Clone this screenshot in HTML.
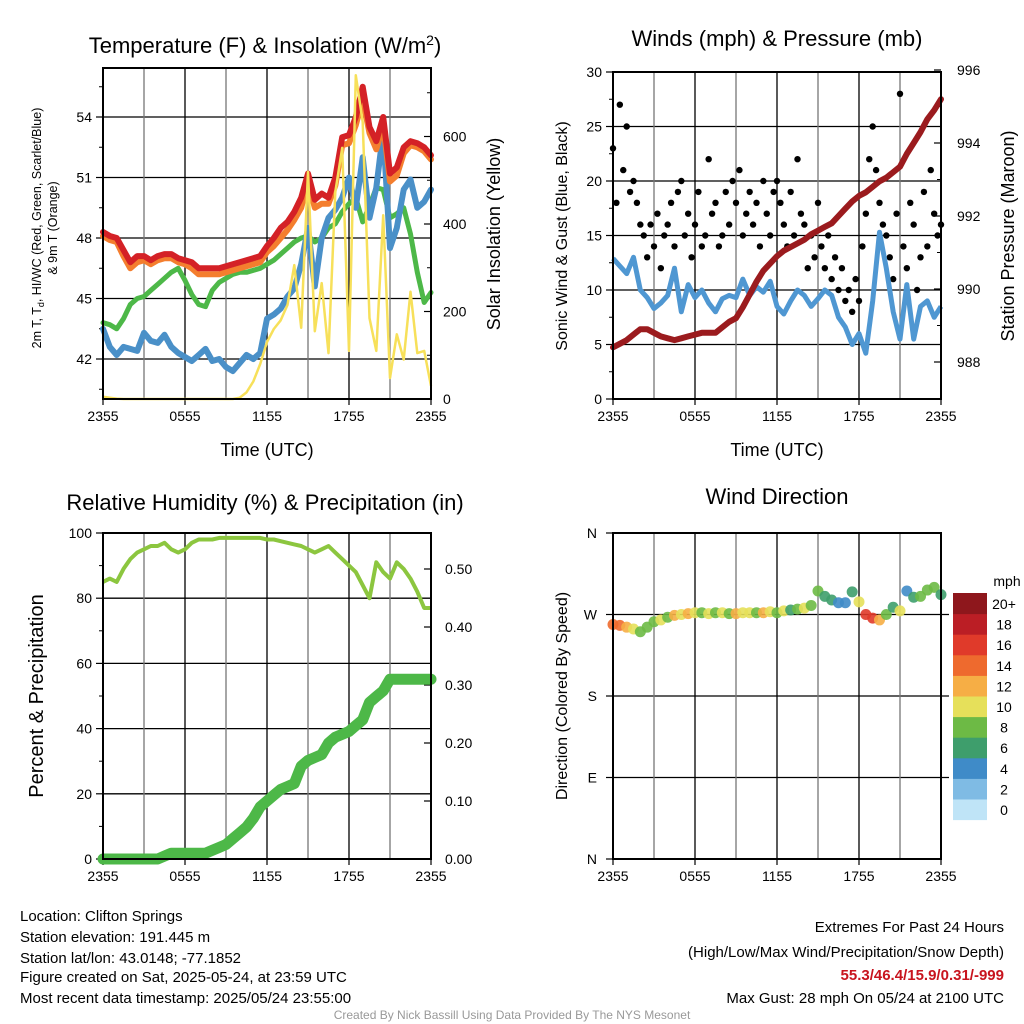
<!DOCTYPE html>
<html><head><meta charset="utf-8"><style>
body{margin:0;background:#fff;}
svg{display:block;font-family:"Liberation Sans",Arial,sans-serif;}
</style></head><body>
<svg id="chart" width="1024" height="1024" viewBox="0 0 1024 1024" xmlns="http://www.w3.org/2000/svg">
<rect width="1024" height="1024" fill="#fff"/>
<g id="p1"></g>
<g id="p2"></g>
<g id="p3"></g>
<g id="p4"></g>
<g font-size="15" fill="#000">
<text x="20" y="921">Location: Clifton Springs</text>
<text x="20" y="942">Station elevation: 191.445 m</text>
<text x="20" y="963">Station lat/lon: 43.0148; -77.1852</text>
<text x="20" y="982">Figure created on Sat, 2025-05-24, at 23:59 UTC</text>
<text x="20" y="1003">Most recent data timestamp: 2025/05/24 23:55:00</text>
</g>
<g font-size="15" text-anchor="end">
<text x="1004" y="932">Extremes For Past 24 Hours</text>
<text x="1004" y="957">(High/Low/Max Wind/Precipitation/Snow Depth)</text>
<text x="1004" y="980" fill="#c8141e" font-weight="bold">55.3/46.4/15.9/0.31/-999</text>
<text x="1004" y="1003">Max Gust: 28 mph On 05/24 at 2100 UTC</text>
</g>
<text x="512" y="1019" font-size="12" fill="#999" text-anchor="middle">Created By Nick Bassill Using Data Provided By The NYS Mesonet</text>
</svg>
<script>
// ---------- data (half-hourly, 2355 -> 2355) ----------
const xTickLabels = ["2355","0555","1155","1755","2355"];
const temp2m = [48.3,48.1,48.0,47.4,46.8,47.1,47.1,46.9,47.1,47.2,47.2,47.0,46.9,46.8,46.5,46.5,46.5,46.5,46.6,46.7,46.8,46.9,47.0,47.1,47.6,48.0,48.5,48.8,49.3,50.0,51.2,49.9,50.2,50.0,51.0,53.0,53.1,54.0,55.5,53.5,52.8,54.0,51.2,51.5,52.5,52.8,52.7,52.5,52.1];
const temp9m = [48.1,47.9,47.8,47.1,46.5,46.8,46.9,46.7,46.9,47.0,47.0,46.8,46.7,46.5,46.2,46.2,46.2,46.2,46.3,46.4,46.5,46.6,46.7,46.8,47.3,47.6,48.0,48.4,48.9,49.5,50.8,49.5,49.7,49.7,50.6,52.6,52.7,53.6,54.9,53.2,52.4,53.6,50.8,51.1,52.2,52.6,52.5,52.3,51.9];
const dewpoint = [43.8,43.7,43.5,44.0,44.7,45.0,45.1,45.4,45.7,46.0,46.3,46.5,45.9,45.2,44.7,44.6,45.4,45.8,46.0,46.2,46.3,46.3,46.4,46.5,46.7,46.9,47.2,47.5,47.8,48.0,48.1,47.8,48.0,48.5,48.7,49.3,49.7,50.0,48.8,49.6,50.5,50.4,49.0,49.2,49.5,48.2,46.3,44.8,45.3];
const hiwc = [43.5,42.6,42.2,42.6,42.5,42.4,43.3,42.9,42.8,43.2,42.6,42.3,42.1,41.9,42.2,42.5,41.9,42.0,41.6,41.4,41.8,42.2,42.0,42.3,44.0,44.2,44.5,45.1,45.5,46.7,48.5,45.6,48.0,49.0,49.4,50.0,51.0,49.5,52.0,49.0,50.5,53.3,47.5,48.5,50.4,50.9,49.5,49.8,50.4];
const solar = [5,3,1,0,0,0,0,0,0,0,0,0,0,0,0,0,0,0,0,0,3,15,40,80,130,160,180,215,306,163,519,155,265,105,473,574,110,740,633,185,110,420,48,148,90,245,105,110,30];
const windSpeed = [12.9,12.2,11.5,13.0,10.0,9.3,8.3,8.8,9.5,12.0,8.0,10.5,9.3,10.0,8.8,8.0,9.2,9.5,9.3,11.0,9.5,10.3,9.8,10.8,8.5,7.8,9.0,10.0,9.5,8.5,9.2,10.0,9.5,7.5,6.6,5.0,6.0,4.2,9.0,15.3,12.0,8.0,5.5,10.5,5.5,8.5,9.0,7.5,8.5];
const pressure = [988.4,988.5,988.6,988.75,988.9,988.9,988.8,988.7,988.65,988.6,988.65,988.7,988.75,988.8,988.8,988.8,988.95,989.1,989.2,989.5,989.85,990.2,990.5,990.7,990.9,991.05,991.15,991.25,991.35,991.5,991.6,991.7,991.8,992.0,992.2,992.4,992.55,992.65,992.8,992.95,993.05,993.2,993.35,993.7,994.0,994.3,994.65,994.9,995.2];
// quarter-hourly gusts
const gusts = [23,18,27,21,25,19,20,18,16,15,13,16,14,17,12,15,16,18,14,19,20,15,17,13,16,19,14,15,22,17,18,14,15,19,16,20,18,21,15,17,19,16,18,14,20,17,15,19,20,18,16,14,19,15,22,17,16,12,15,13,18,14,12,15,11,13,10,12,9,10,8,11,9,14,17,22,25,21,18,16,15,13,11,17,28,14,12,18,16,10,13,19,14,21,17,15,16];
const relHum = [85,86,85,89,92,94,95,96,96,97,95,94,95,97,98,98,98,98.5,98.5,98.5,98.5,98.5,98.5,98.5,98,98,97.5,97,96.5,96,95,94,95,96,94,92,90,88,84,80,91,88,86,91,89,86,82,77,77];
const precip = [0,0,0,0,0,0,0,0,0,0.005,0.01,0.01,0.01,0.01,0.01,0.01,0.015,0.02,0.025,0.035,0.045,0.055,0.07,0.09,0.10,0.11,0.12,0.125,0.13,0.16,0.17,0.175,0.18,0.20,0.21,0.215,0.22,0.23,0.24,0.27,0.28,0.29,0.31,0.31,0.31,0.31,0.31,0.31,0.31];
const windDir = [259,258,256,254,251,256,262,264,267,269,270,271,272,272,271,272,272,271,271,272,272,272,272,273,272,274,275,276,277,280,296,290,286,283,283,295,284,270,266,264,270,278,274,296,289,290,297,300,292];
const dirSpeed = [14,15,13,11,9,8,8,10,8,13,11,12,10,9,10,8,11,9,12,10,11,9,12,10,8,10,7,9,10,8,8,6,6,5,4,6,10,16,17,12,8,7,11,4,6,8,8,9,6];
const colorLevels = ["0","2","4","6","8","10","12","14","16","18","20+"];
const colorFills = ["#bfe4f7","#7fbbe4","#3f8bc8","#3e9e6c","#6dba45","#e6e05a","#f6ae45","#ee6a2e","#e03a2a","#bb1e25","#8e171c"];

const NS="http://www.w3.org/2000/svg";
function mk(parent,tag,attrs,txt){const e=document.createElementNS(NS,tag);for(const k in attrs)e.setAttribute(k,attrs[k]);if(txt!==undefined)e.textContent=txt;parent.appendChild(e);return e;}
function lin(d0,d1,r0,r1){return v=>r0+(v-d0)/(d1-d0)*(r1-r0);}

function frame(g,L,T,R,B,xs,name){
  for(let h=3;h<24;h+=3){const x=xs(h);
    const l=mk(g,'line',{x1:x,y1:T,x2:x,y2:B,stroke:h%6===0?'#000':'#777','stroke-width':1.3});
    
    }
  xTickLabels.forEach((lab,i)=>{const x=xs(i*6);
    mk(g,'line',{x1:x,y1:B,x2:x,y2:B+6,stroke:'#000','stroke-width':1.2});
    const t=mk(g,'text',{x:x,y:B+22,'font-size':14,'text-anchor':'middle'},lab);
    
    });
}
function border(g,L,T,R,B){const r=mk(g,'rect',{x:L,y:T,width:R-L,height:B-T,fill:'none',stroke:'#000','stroke-width':2});
  
  }
function path(g,pts){return 'M'+pts.map(p=>p[0].toFixed(1)+','+p[1].toFixed(1)).join('L');}

// ---------- Panel 1 ----------
(function(){
  const g=document.getElementById('p1');const L=103,R=431,T=68,B=399;
  const xs=lin(0,24,L,R), ys=lin(42,45,359,298.5), ysr=lin(0,600,399,136.5);
  [42,45,48,51,54].forEach(v=>{const y=ys(v);
    const gl=mk(g,'line',{x1:L,y1:y,x2:R,y2:y,stroke:'#000','stroke-width':1.3});
    
    
    mk(g,'line',{x1:L-7,y1:y,x2:L,y2:y,stroke:'#000','stroke-width':1.2});
    const t=mk(g,'text',{x:L-11,y:y+5,'font-size':14,'text-anchor':'end'},String(v));
    
    });
  for(let v=40.5;v<56;v+=3){mk(g,'line',{x1:L-4,y1:ys(v),x2:L,y2:ys(v),stroke:'#000'});}
  [0,200,400,600].forEach(v=>{const y=ysr(v);
    mk(g,'line',{x1:R-7,y1:y,x2:R+0,y2:y,stroke:'#000','stroke-width':1.2});
    const t=mk(g,'text',{x:R+12,y:y+5,'font-size':14},String(v));
    
    });
  for(let v=100;v<760;v+=200){mk(g,'line',{x1:R-4,y1:ysr(v),x2:R,y2:ysr(v),stroke:'#000'});}
  frame(g,L,T,R,B,xs);
  const ser=[[dewpoint,'#4db848','green-dewpoint-line',5],[hiwc,'#4a90c8','blue-hiwc-line',6],[temp9m,'#f47e2e','orange-9m-temp-line',6],[temp2m,'#d42126','red-2m-temp-line',6]];
  ser.forEach(s=>{const p=mk(g,'path',{d:path(g,s[0].map((v,i)=>[xs(i/2),ys(v)])),fill:'none',stroke:s[1],'stroke-width':s[3],'stroke-linejoin':'round','stroke-linecap':'round'});
    
    });
  const sp=mk(g,'path',{d:path(g,solar.map((v,i)=>[xs(i/2),ysr(v)])),fill:'none',stroke:'#f7e05a','stroke-width':2.5,'stroke-linejoin':'round'});
  
  
  border(g,L,T,R,B);
  const t=mk(g,'text',{x:265,y:53,'font-size':22,'text-anchor':'middle'});
  t.innerHTML='Temperature (F) &amp; Insolation (W/m<tspan dy="-8" font-size="14">2</tspan><tspan dy="8">)</tspan>';
  
  
  const yl=mk(g,'text',{transform:'translate(41,228) rotate(-90)','font-size':12.5,'text-anchor':'middle'});
  yl.innerHTML='2m T, T<tspan dy="3" font-size="9">d</tspan><tspan dy="-3">, HI/WC (Red, Green, Scarlet/Blue)</tspan>';
  
  
  const yl2=mk(g,'text',{transform:'translate(57,228) rotate(-90)','font-size':12.5,'text-anchor':'middle'},'& 9m T (Orange)');
  
  
  const yr=mk(g,'text',{transform:'translate(500,234) rotate(-90)','font-size':18,'text-anchor':'middle'},'Solar Insolation (Yellow)');
  
  
  const xl=mk(g,'text',{x:267,y:456,'font-size':18,'text-anchor':'middle'},'Time (UTC)');
  
  
})();

// ---------- Panel 2 ----------
(function(){
  const g=document.getElementById('p2');const L=613,R=941,T=72,B=399;
  const xs=lin(0,24,L,R), ys=lin(0,30,B,T), ysr=lin(988,996,362,70);
  [0,5,10,15,20,25,30].forEach(v=>{const y=ys(v);
    if(v>0&&v<30){const gl=mk(g,'line',{x1:L,y1:y,x2:R,y2:y,stroke:'#000','stroke-width':1.3});
      
      }
    mk(g,'line',{x1:L-7,y1:y,x2:L,y2:y,stroke:'#000','stroke-width':1.2});
    const t=mk(g,'text',{x:L-11,y:y+5,'font-size':14,'text-anchor':'end'},String(v));
    
    });
  for(let v=2.5;v<30;v+=5){mk(g,'line',{x1:L-4,y1:ys(v),x2:L,y2:ys(v),stroke:'#000'});}
  [988,990,992,994,996].forEach(v=>{const y=ysr(v);
    mk(g,'line',{x1:R-7,y1:y,x2:R,y2:y,stroke:'#000','stroke-width':1.2});
    const t=mk(g,'text',{x:R+16,y:y+5,'font-size':14},String(v));
    
    });
  for(let v=987;v<996;v+=2){mk(g,'line',{x1:R-4,y1:ysr(v),x2:R,y2:ysr(v),stroke:'#000'});}
  frame(g,L,T,R,B,xs);
  gusts.forEach((v,i)=>{const c=mk(g,'circle',{cx:xs(i/4),cy:ys(v),r:3.2,fill:'#000'});
    
    });
  const wp=mk(g,'path',{d:path(g,windSpeed.map((v,i)=>[xs(i/2),ys(v)])),fill:'none',stroke:'#4f97d2','stroke-width':5,'stroke-linejoin':'round'});
  
  
  const pp=mk(g,'path',{d:path(g,pressure.map((v,i)=>[xs(i/2),ysr(v)])),fill:'none',stroke:'#9b1b1e','stroke-width':6,'stroke-linejoin':'round','stroke-linecap':'round'});
  
  
  border(g,L,T,R,B);
  const t=mk(g,'text',{x:777,y:46,'font-size':22,'text-anchor':'middle'},'Winds (mph) & Pressure (mb)');
  
  
  const yl=mk(g,'text',{transform:'translate(567,236) rotate(-90)','font-size':16,'text-anchor':'middle'},'Sonic Wind & Gust (Blue, Black)');
  
  
  const yr=mk(g,'text',{transform:'translate(1014,236) rotate(-90)','font-size':18,'text-anchor':'middle'},'Station Pressure (Maroon)');
  
  
  const xl=mk(g,'text',{x:777,y:456,'font-size':18,'text-anchor':'middle'},'Time (UTC)');
  
  
})();

// ---------- Panel 3 ----------
(function(){
  const g=document.getElementById('p3');const L=103,R=431,T=533,B=859;
  const xs=lin(0,24,L,R), ys=lin(0,100,B,T), ysr=lin(0,0.5,B,569);
  [0,20,40,60,80,100].forEach(v=>{const y=ys(v);
    if(v>0&&v<100){const gl=mk(g,'line',{x1:L,y1:y,x2:R,y2:y,stroke:'#000','stroke-width':1.3});
      
      }
    mk(g,'line',{x1:L-7,y1:y,x2:L,y2:y,stroke:'#000','stroke-width':1.2});
    const t=mk(g,'text',{x:L-11,y:y+5,'font-size':14,'text-anchor':'end'},String(v));
    
    });
  for(let v=10;v<100;v+=20){mk(g,'line',{x1:L-4,y1:ys(v),x2:L,y2:ys(v),stroke:'#000'});}
  [0,0.1,0.2,0.3,0.4,0.5].forEach(v=>{const y=ysr(v);
    mk(g,'line',{x1:R-7,y1:y,x2:R,y2:y,stroke:'#000','stroke-width':1.2});
    const t=mk(g,'text',{x:R+14,y:y+5,'font-size':14},v.toFixed(2));
    
    });
  frame(g,L,T,R,B,xs);
  const rp=mk(g,'path',{d:path(g,relHum.map((v,i)=>[xs(i/2),ys(v)])),fill:'none',stroke:'#8cc63f','stroke-width':4,'stroke-linejoin':'round'});
  
  
  const pp=mk(g,'path',{d:path(g,precip.map((v,i)=>[xs(i/2),ysr(v)])),fill:'none',stroke:'#4db848','stroke-width':11,'stroke-linejoin':'round','stroke-linecap':'round'});
  
  
  border(g,L,T,R,B);
  const t=mk(g,'text',{x:265,y:510,'font-size':22,'text-anchor':'middle'},'Relative Humidity (%) & Precipitation (in)');
  
  
  const yl=mk(g,'text',{transform:'translate(43,696) rotate(-90)','font-size':20,'text-anchor':'middle'},'Percent & Precipitation');
  
  
})();

// ---------- Panel 4 ----------
(function(){
  const g=document.getElementById('p4');const L=613,R=941,T=533,B=859;
  const xs=lin(0,24,L,R), ys=lin(0,360,B,T);
  [[0,'N'],[90,'E'],[180,'S'],[270,'W'],[360,'N']].forEach(d=>{const y=ys(d[0]);
    if(d[0]>0&&d[0]<360){const gl=mk(g,'line',{x1:L,y1:y,x2:R+8,y2:y,stroke:'#000','stroke-width':1.3});
      
      }
    mk(g,'line',{x1:L-7,y1:y,x2:L,y2:y,stroke:'#000','stroke-width':1.2});
    const t=mk(g,'text',{x:L-16,y:y+5,'font-size':14,'text-anchor':'end'},d[1]);
    
    });
  frame(g,L,T,R,B,xs);
  function col(s){return colorFills[Math.min(10,Math.floor(s/2))];}
  windDir.forEach((v,i)=>{const c=mk(g,'circle',{cx:xs(i/2),cy:ys(v),r:5.5,fill:col(dirSpeed[i]),'fill-opacity':0.9});
    
    });
  border(g,L,T,R,B);
  const cb=mk(g,'g',{});
  
  
  const cT=593,cH=20.6;
  colorLevels.forEach((lab,i)=>{const k=10-i;const y=cT+k*cH;
    mk(cb,'rect',{x:953,y:y,width:34,height:cH+0.5,fill:colorFills[i]});
    const t=mk(cb,'text',{x:1004,y:y+16,'font-size':14,'text-anchor':'middle'},lab);
    
    });
  mk(cb,'text',{x:1007,y:586,'font-size':14,'text-anchor':'middle'},'mph');
  const t=mk(g,'text',{x:777,y:504,'font-size':22,'text-anchor':'middle'},'Wind Direction');
  
  
  const yl=mk(g,'text',{transform:'translate(567,696) rotate(-90)','font-size':16,'text-anchor':'middle'},'Direction (Colored By Speed)');
  
  
})();
</script>
</body></html>
